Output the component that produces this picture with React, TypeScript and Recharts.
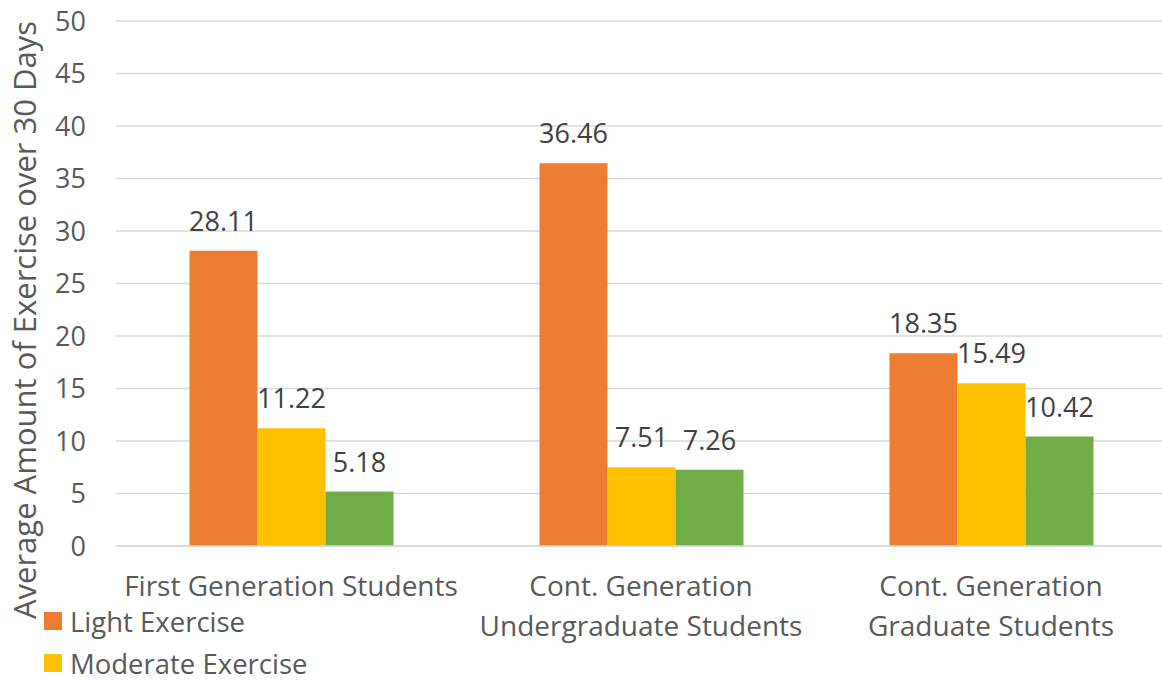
import React from 'react';
import { BarChart, Bar, XAxis, YAxis, CartesianGrid, LabelList, Legend, Label } from 'recharts';

const categories = ['First Generation Students', 'Cont. Generation\nUndergraduate Students', 'Cont. Generation\nGraduate Students'];
const lightExercise = [28.11, 36.46, 18.35];
const moderateExercise = [11.22, 7.51, 15.49];
const vigorousExercise = [5.18, 7.26, 10.42];
const yTicks = [0, 5, 10, 15, 20, 25, 30, 35, 40, 45, 50];
const seriesNames = ['Light Exercise', 'Moderate Exercise', 'Vigorous Exercise'];
const seriesKeys = ['light', 'moderate', 'vigorous'];
const seriesColors = ['#ED7D31', '#FFC000', '#70AD47'];

const data = categories.map((c, i) => ({
  name: c,
  light: lightExercise[i],
  moderate: moderateExercise[i],
  vigorous: vigorousExercise[i],
}));

const FONT = '"Open Sans", Lato, sans-serif';

const CatTick = ({ x, y, payload }: any) => {
  const lines = String(payload.value).split('\n');
  return (
    <text x={x} y={y} textAnchor="middle" fill="#595959" fontSize={28} fontFamily={FONT}>
      {lines.map((l, i) => (
        <tspan key={i} x={x} dy={i === 0 ? 48 : 40}>{l}</tspan>
      ))}
    </text>
  );
};

// the reference canvas ends before the third legend row, so only rows that fit are drawn
const LegendBox = ({ payload }: any) => (
  <div style={{ height: 81, overflow: 'hidden', fontFamily: FONT, fontSize: 27.5, color: '#595959' }}>
    {(payload || []).slice(0, 2).map((p: any, i: number) => (
      <div key={i} style={{ display: 'flex', alignItems: 'center', height: 42 }}>
        <span style={{ display: 'inline-block', width: 18, height: 18, background: p.color, marginLeft: 44, marginRight: 8 }} />
        <span>{p.value}</span>
      </div>
    ))}
  </div>
);

export default function App() {
  return (
    <div style={{ position: 'absolute', left: 0, top: 0, width: 1162, height: 681, overflow: 'hidden', background: '#fff' }}>
      <BarChart
        width={1162}
        height={681}
        data={data}
        margin={{ top: 21, right: -4, bottom: 14, left: 0 }}
        barCategoryGap="21%"
        barGap={0}
      >
        <CartesianGrid vertical={false} stroke="#D9D9D9" strokeWidth={1.5} />
        <XAxis
          dataKey="name"
          height={40}
          tick={<CatTick />}
          tickLine={false}
          tickSize={0}
          interval={0}
          axisLine={{ stroke: '#D9D9D9', strokeWidth: 1.5 }}
        />
        <YAxis
          width={116}
          domain={[0, 50]}
          ticks={yTicks}
          axisLine={false}
          tickLine={false}
          tickSize={0}
          tickMargin={30}
          tick={{ fill: '#595959', fontSize: 27, fontFamily: FONT }}
        >
          <Label
            content={() => (
              <text
                x={36}
                y={320}
                transform="rotate(-90, 36, 320)"
                textAnchor="middle"
                fill="#595959"
                fontSize={31}
                fontFamily={FONT}
              >
                Average Amount of Exercise over 30 Days
              </text>
            )}
          />
        </YAxis>
        <Legend
          verticalAlign="bottom"
          align="left"
          content={<LegendBox />}
          wrapperStyle={{ left: 0, top: 600, bottom: 'auto' }}
        />
        {seriesKeys.map((k, i) => (
          <Bar key={k} dataKey={k} name={seriesNames[i]} fill={seriesColors[i]} isAnimationActive={false}>
            <LabelList dataKey={k} position="top" offset={20} fill="#404040" fontSize={27} fontFamily={FONT} />
          </Bar>
        ))}
      </BarChart>
    </div>
  );
}
